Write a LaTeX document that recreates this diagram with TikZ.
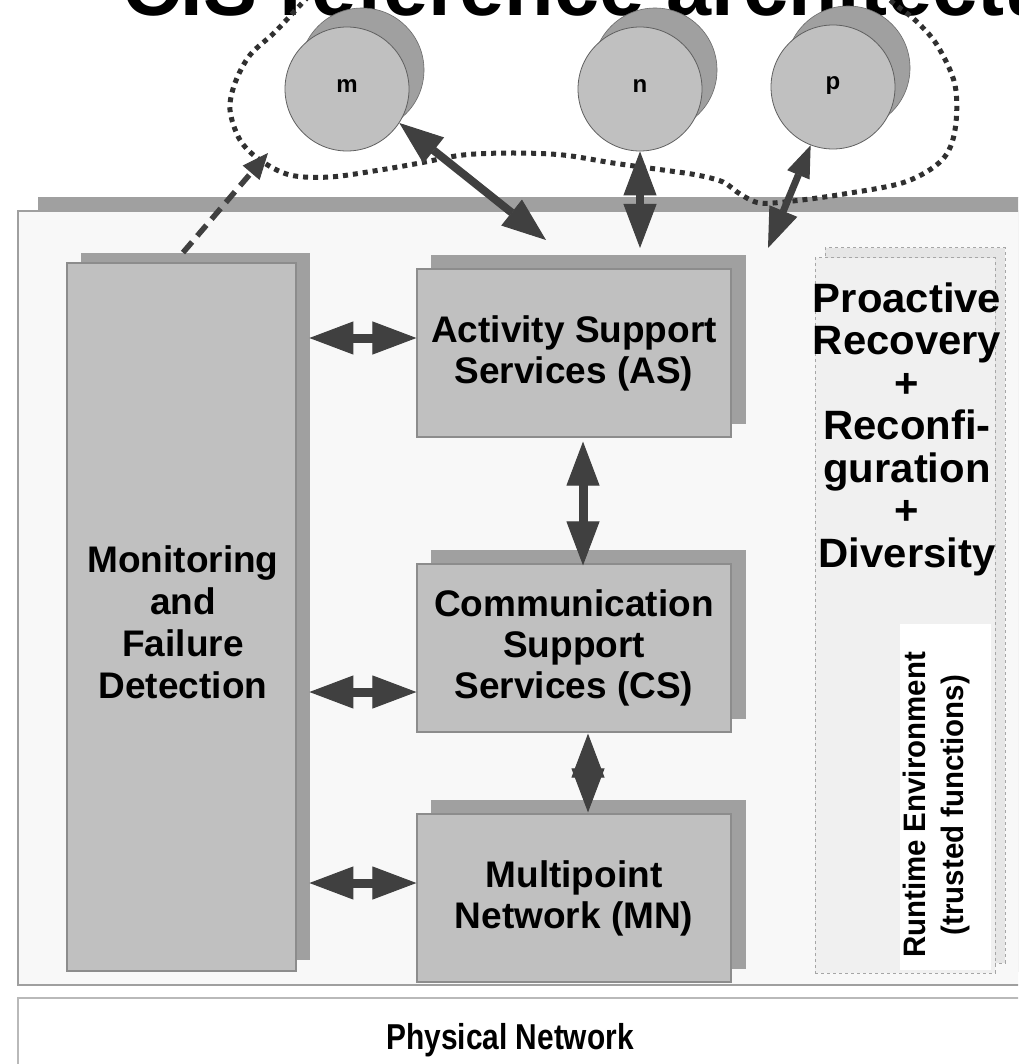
\documentclass[tikz,border=0pt]{standalone}
\usepackage{fontspec}
\setmainfont{Liberation Sans}
\newfontfamily\pnfont[FakeStretch=0.83]{Liberation Sans}
\newfontfamily\rtfont[FakeStretch=0.95]{Liberation Sans}
\newfontfamily\prfont[FakeStretch=1.02]{Liberation Sans}
\usetikzlibrary{arrows.meta,calc}
\definecolor{boxfill}{HTML}{C0C0C0}
\definecolor{boxshadow}{HTML}{A0A0A0}
\definecolor{boxline}{HTML}{8C8C8C}
\definecolor{panelfill}{HTML}{F8F8F8}
\definecolor{arrowc}{HTML}{404040}
\definecolor{dotc}{HTML}{303030}
\definecolor{colfront}{HTML}{F0F0F0}
\definecolor{colback}{HTML}{E6E6E6}
\tikzset{
  frontbox/.style={draw=boxline, line width=1.2pt, fill=boxfill, inner sep=0pt, align=center,
    font=\bfseries\fontsize{37}{41}\selectfont},
  backbox/.style={draw=boxshadow, line width=0.8pt, fill=boxshadow, inner sep=0pt},
  frontcirc/.style={circle, minimum size=124pt, inner sep=0pt, draw=gray!75!black, line width=0.8pt, fill=boxfill,
    font=\bfseries\fontsize{24}{26}\selectfont},
  backcirc/.style={circle, minimum size=124pt, inner sep=0pt, draw=gray!85!black, line width=0.6pt, fill=boxshadow},
  bigtip/.tip={Triangle[length=44pt,width=33pt,line width=1pt]},
  dblarrow/.style={draw=arrowc, fill=arrowc, line width=9pt, bigtip-bigtip},
  thinarrow/.style={draw=arrowc, fill=arrowc, line width=7pt,
    {Triangle[length=32pt,width=24pt,line width=1pt]}-{Triangle[length=40pt,width=30pt,line width=1pt]}},
  dasharrow/.style={draw=arrowc, line width=5.5pt, dash pattern=on 14pt off 8pt,
    -{Triangle[length=26pt,width=22pt,line width=1pt]}},
  loopline/.style={draw=dotc, line width=5pt, dash pattern=on 5pt off 5pt},
  dashedcol/.style={draw=gray!70, dashed, line width=1pt},
}
\begin{document}
\begin{tikzpicture}[x=1pt,y=-1pt]
\useasboundingbox (0,0) rectangle (1018,1064);
\clip (0,0) rectangle (1018,1064);
\fill[white] (0,0) rectangle (1018,1064);

% title (cut at top)
\node[font=\bfseries\fontsize{81}{90}\selectfont, anchor=base west, inner sep=0pt] (title) at (122,16) {CIS reference architecture};

% panels
\node[backbox, minimum width=1012pt, minimum height=774pt] (panelsh) at (544,584) {};
\node[draw=gray!75, fill=panelfill, line width=1.2pt, minimum width=1012pt, minimum height=774pt, inner sep=0pt] (panel) at (524,598) {};
\node[draw=gray!55, fill=white, line width=1.5pt, minimum width=1030pt, minimum height=90pt, inner sep=0pt] (phys) at (533,1043) {};
\node[font=\pnfont\bfseries\fontsize{36}{40}\selectfont, inner sep=0pt] (physlbl) at (510,1040) {Physical Network};

% right column
\node[dashedcol, fill=colback, minimum width=180pt, minimum height=715pt, inner sep=0pt] (colsh) at (915,605.5) {};
\node[dashedcol, fill=colfront, minimum width=180pt, minimum height=715pt, inner sep=0pt] (col) at (905,615.5) {};
\node[font=\prfont\bfseries\fontsize{41}{42.5}\selectfont, align=center, inner sep=0pt] (proact) at (907,429)
  {Proactive\\Recovery\\+\\Reconfi-\\guration\\+\\Diversity};
\node[fill=white, minimum width=91pt, minimum height=346pt, inner sep=0pt] (rtbox) at (945.5,797) {};
\node[rotate=90, font=\rtfont\bfseries\fontsize{31}{38}\selectfont, align=center, inner sep=0pt] (rtlbl) at (936,805)
  {Runtime Environment\\(trusted functions)};

% monitoring
\node[backbox, minimum width=228pt, minimum height=706pt] (monsh) at (195,606) {};
\node[frontbox, minimum width=229pt, minimum height=708pt] (mon) at (181.5,617) {};
\node[font=\bfseries\fontsize{37}{42}\selectfont, align=center, inner sep=0pt] (monlbl) at (183,622)
  {Monitoring\\and\\Failure\\Detection};

% service boxes
\node[backbox, minimum width=314pt, minimum height=168pt] (assh) at (588,339) {};
\node[frontbox, minimum width=314pt, minimum height=168pt] (as) at (574,353) {Activity Support\\Services (AS)};
\node[backbox, minimum width=314pt, minimum height=168pt] (cssh) at (588,634) {};
\node[frontbox, minimum width=314pt, minimum height=168pt] (cs) at (574,648) {Communication\\Support\\Services (CS)};
\node[backbox, minimum width=314pt, minimum height=168pt] (mnsh) at (588,884) {};
\node[frontbox, minimum width=314pt, minimum height=168pt] (mn) at (574,898) {Multipoint\\Network (MN)};

% participants
\node[backcirc] (mb) at (362,70) {};
\node[frontcirc] (m) at (347,89) {\raisebox{5pt}{m}};
\node[backcirc] (nb) at (655,70) {};
\node[frontcirc] (n) at (640,89) {\raisebox{5pt}{n}};
\node[backcirc] (pb) at (848,68) {};
\node[frontcirc] (p) at (833,87) {\raisebox{8pt}{p}};

% dotted loop
\draw[loopline] plot[smooth, tension=0.55] coordinates {
 (330,-25) (305,0) (275,32) (250,55) (235,83) (230,110) (240,140) (260,160) (290,175) (330,177)
 (380,170) (420,163) (463,155) (513,153) (563,155) (613,163) (663,170) (697,175) (723,182)
 (740,194) (760,203) (793,201) (844,194) (905,182) (942,160) (955,130) (955,85) (937,45)
 (915,20) (890,0) (870,-25)};

% connectors
\coordinate (mend) at (546,240);
\coordinate (nend) at (640,248);
\coordinate (pend) at (768,248);
\coordinate (dend) at (268,153);
\draw[dblarrow] ($(monsh.east |- as.west)+(0,-15)$) -- ($(as.west)+(0,-15)$);
\draw[dblarrow] ($(monsh.east |- cs.west)+(0,44)$) -- ($(cs.west)+(0,44)$);
\draw[dblarrow] ($(monsh.east |- mn.west)+(0,-15)$) -- ($(mn.west)+(0,-15)$);
\draw[dblarrow] ($(as.south)+(9,4)$) -- ($(cs.north)+(9,2)$);
\draw[dblarrow] ($(cs.south)+(14,1)$) -- ($(mn.north)+(14,-1)$);
\draw[dblarrow, line width=8pt] (m.-33) -- (mend);
\draw[dblarrow, line width=8pt] (n.south) -- (nend);
\draw[thinarrow] (p.-111) -- (pend);
\draw[dasharrow] ($(monsh.north)+(-12,0)$) -- (dend);
\end{tikzpicture}
\end{document}
